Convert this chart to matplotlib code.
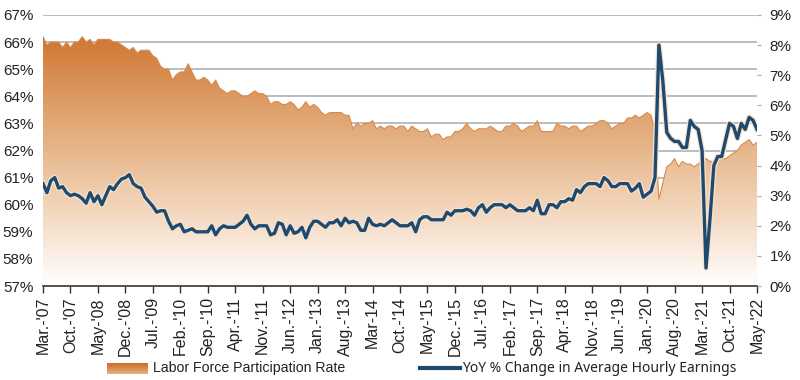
import numpy as np
import matplotlib
matplotlib.use("Agg")
import matplotlib.pyplot as plt
import matplotlib.patheffects as pe
from matplotlib.colors import LinearSegmentedColormap
from matplotlib.lines import Line2D

# Monthly data, Mar-2007 .. May-2022
lfpr = [
    66.2, 65.9, 66.0, 66.0, 66.0, 65.8, 66.0, 65.8, 66.0, 66.0,              # 2007
    66.2, 66.0, 66.1, 65.9, 66.1, 66.1, 66.1, 66.1, 66.0, 66.0, 65.9, 65.8,  # 2008
    65.7, 65.8, 65.6, 65.7, 65.7, 65.7, 65.5, 65.4, 65.1, 65.0, 65.0, 64.6,  # 2009
    64.8, 64.9, 64.9, 65.2, 64.9, 64.6, 64.6, 64.7, 64.6, 64.4, 64.6, 64.3,  # 2010
    64.2, 64.1, 64.2, 64.2, 64.1, 64.0, 64.0, 64.1, 64.2, 64.1, 64.1, 64.0,  # 2011
    63.7, 63.8, 63.8, 63.7, 63.7, 63.8, 63.7, 63.5, 63.6, 63.8, 63.6, 63.7,  # 2012
    63.6, 63.4, 63.3, 63.4, 63.4, 63.4, 63.4, 63.3, 63.3, 62.8, 63.0, 62.9,  # 2013
    63.0, 63.0, 63.1, 62.8, 62.9, 62.8, 62.9, 62.9, 62.8, 62.9, 62.9, 62.7,  # 2014
    62.9, 62.8, 62.7, 62.7, 62.8, 62.5, 62.6, 62.6, 62.4, 62.5, 62.5, 62.7,  # 2015
    62.7, 62.8, 63.0, 62.8, 62.7, 62.8, 62.8, 62.8, 62.9, 62.8, 62.7, 62.7,  # 2016
    62.9, 62.9, 63.0, 62.9, 62.7, 62.8, 62.9, 62.9, 63.1, 62.7, 62.7, 62.7,  # 2017
    62.7, 63.0, 62.9, 62.9, 62.8, 62.9, 62.9, 62.7, 62.8, 62.9, 62.9, 63.0,  # 2018
    63.1, 63.1, 63.0, 62.8, 62.9, 63.0, 63.0, 63.2, 63.2, 63.3, 63.2, 63.3,  # 2019
    63.4, 63.3, 62.7, 60.2, 60.8, 61.4, 61.5, 61.7, 61.4, 61.6, 61.5, 61.5,  # 2020
    61.4, 61.5, 61.6, 61.7, 61.6, 61.6, 61.7, 61.7, 61.7, 61.8, 61.9, 62.0,  # 2021
    62.2, 62.3, 62.4, 62.2, 62.3,                                            # 2022
]

ahe_yoy = [
    3.4, 3.1, 3.5, 3.6, 3.25, 3.3, 3.1, 3.0, 3.05, 3.0,                      # 2007
    2.9, 2.75, 3.1, 2.8, 3.0, 2.7, 3.0, 3.3, 3.2, 3.4, 3.55, 3.6,            # 2008
    3.7, 3.4, 3.3, 3.25, 2.95, 2.8, 2.65, 2.45, 2.5, 2.5, 2.15, 1.9,         # 2009
    2.0, 2.05, 1.8, 1.85, 1.9, 1.8, 1.8, 1.8, 1.8, 2.0, 1.7, 1.9,            # 2010
    2.0, 1.95, 1.95, 1.95, 2.05, 2.15, 2.35, 2.05, 1.9, 2.0, 2.0, 2.0,       # 2011
    1.7, 1.75, 2.1, 2.05, 1.7, 2.0, 1.75, 1.8, 1.95, 1.6, 1.95, 2.15,        # 2012
    2.15, 2.05, 1.95, 2.1, 2.1, 2.2, 2.0, 2.25, 2.1, 2.15, 2.1, 1.85,        # 2013
    1.85, 2.25, 2.05, 2.0, 2.05, 2.0, 2.1, 2.2, 2.1, 2.0, 2.0, 2.0,          # 2014
    2.1, 1.8, 2.2, 2.3, 2.3, 2.2, 2.2, 2.2, 2.2, 2.45, 2.35, 2.5,            # 2015
    2.5, 2.5, 2.55, 2.5, 2.35, 2.6, 2.7, 2.45, 2.6, 2.7, 2.7, 2.7,           # 2016
    2.6, 2.7, 2.6, 2.5, 2.5, 2.5, 2.6, 2.5, 2.85, 2.4, 2.4, 2.7,             # 2017
    2.7, 2.6, 2.8, 2.8, 2.9, 2.85, 3.2, 3.1, 3.3, 3.4, 3.4, 3.4,             # 2018
    3.3, 3.6, 3.5, 3.3, 3.3, 3.4, 3.4, 3.4, 3.15, 3.25, 3.4, 2.95,           # 2019
    3.05, 3.15, 3.6, 8.0, 6.8, 5.1, 4.9, 4.8, 4.8, 4.6, 4.6, 5.5,            # 2020
    5.3, 5.2, 4.5, 0.6, 2.2, 4.0, 4.3, 4.3, 4.85, 5.4, 5.3, 4.9,             # 2021
    5.4, 5.2, 5.6, 5.5, 5.2,                                                 # 2022
]

tick_labels = ["Mar.-'07", "Oct.-'07", "May-'08", "Dec.-'08", "Jul.-'09", "Feb.-'10",
               "Sep.-'10", "Apr.-'11", "Nov.-'11", "Jun.-'12", "Jan.-'13", "Aug.-'13",
               "Mar-14", "Oct.-'14", "May-'15", "Dec.-'15", "Jul.-'16", "Feb.-'17",
               "Sep.-'17", "Apr.-'18", "Nov.-'18", "Jun.-'19", "Jan.-'20", "Aug.-'20",
               "Mar.-'21", "Oct.-'21", "May-'22"]

x = np.arange(len(lfpr))
orange_cmap = LinearSegmentedColormap.from_list("lfpr", ["#FFFFFF", "#F0CFB0", "#DE9F68", "#CC6A22"])
navy = "#1F4A70"

fig = plt.figure(figsize=(8, 3.8), dpi=100)
ax = fig.add_axes([43 / 800, 1 - 286 / 380, 714 / 800, 271 / 380])
ax2 = ax.twinx()

# gradient area for participation rate
grad = np.linspace(0, 1, 256).reshape(-1, 1)
img = ax.imshow(grad, extent=[x[0], x[-1], 57, 67], origin="lower", aspect="auto",
                cmap=orange_cmap, zorder=1)
area = ax.fill_between(x, 57, lfpr, facecolor="none", edgecolor="none")
img.set_clip_path(area.get_paths()[0], transform=ax.transData)
ax.plot(x, lfpr, color="#D88A4C", lw=0.8, zorder=2)

ax.set_xlim(x[0], x[-1])
ax.set_ylim(57, 67)
ax.set_yticks(np.arange(57, 68, 1))
ax.set_yticklabels([f"{v}%" for v in range(57, 68)])
ax.set_axisbelow(True)
ax.yaxis.grid(True, color="#A9A9A9", lw=1.1)
ax.tick_params(axis="y", length=0, pad=7, labelsize=11, labelcolor="#222222")
for t in ax.get_yticklabels():
    t.set_fontfamily("Liberation Sans")

ax.set_xticks(x[::7])
ax.set_xticklabels(tick_labels, rotation=90, fontsize=11.5,
                   family=["Liberation Sans Narrow", "Liberation Sans"], color="#222222")
ax.tick_params(axis="x", length=5, width=1, color="#333333", pad=3)

for s in ["top", "left", "right"]:
    ax.spines[s].set_visible(False)
ax.spines["bottom"].set_color("#333333")
ax.spines["bottom"].set_linewidth(1.2)

# YoY hourly earnings line
ax2.plot(x, ahe_yoy, color=navy, lw=2.4, solid_joinstyle="round",
         path_effects=[pe.Stroke(linewidth=4.2, foreground="#F9E2CC"), pe.Normal()])
ax2.set_ylim(0, 9)
ax2.set_yticks(np.arange(0, 10, 1))
ax2.set_yticklabels([f"{v}%" for v in range(0, 10)])
ax2.tick_params(axis="y", length=3, color="#A9A9A9", pad=6, labelsize=11, labelcolor="#222222")
for t in ax2.get_yticklabels():
    t.set_fontfamily("Liberation Sans")
for s in ["top", "left", "right", "bottom"]:
    ax2.spines[s].set_visible(False)

# legend drawn by hand
lax = fig.add_axes([107 / 800, 1 - 374 / 380, 40 / 800, 11 / 380])
lax.imshow(np.linspace(0.55, 1, 64).reshape(-1, 1), origin="lower", aspect="auto",
           cmap=orange_cmap, vmin=0, vmax=1)
lax.axis("off")
fig.text(153 / 800, 1 - 368 / 380, "Labor Force Participation Rate", fontsize=10.2,
         family=["Liberation Sans Narrow", "Liberation Sans"], color="#222222", va="center")
fig.add_artist(Line2D([420 / 800, 460 / 800], [1 - 368 / 380] * 2, color=navy, lw=3,
                      transform=fig.transFigure))
fig.text(462 / 800, 1 - 368 / 380, "YoY % Change in Average Hourly Earnings", fontsize=10,
         family="Noto Sans", color="#222222", va="center")

fig.savefig("out.png", dpi=100)
